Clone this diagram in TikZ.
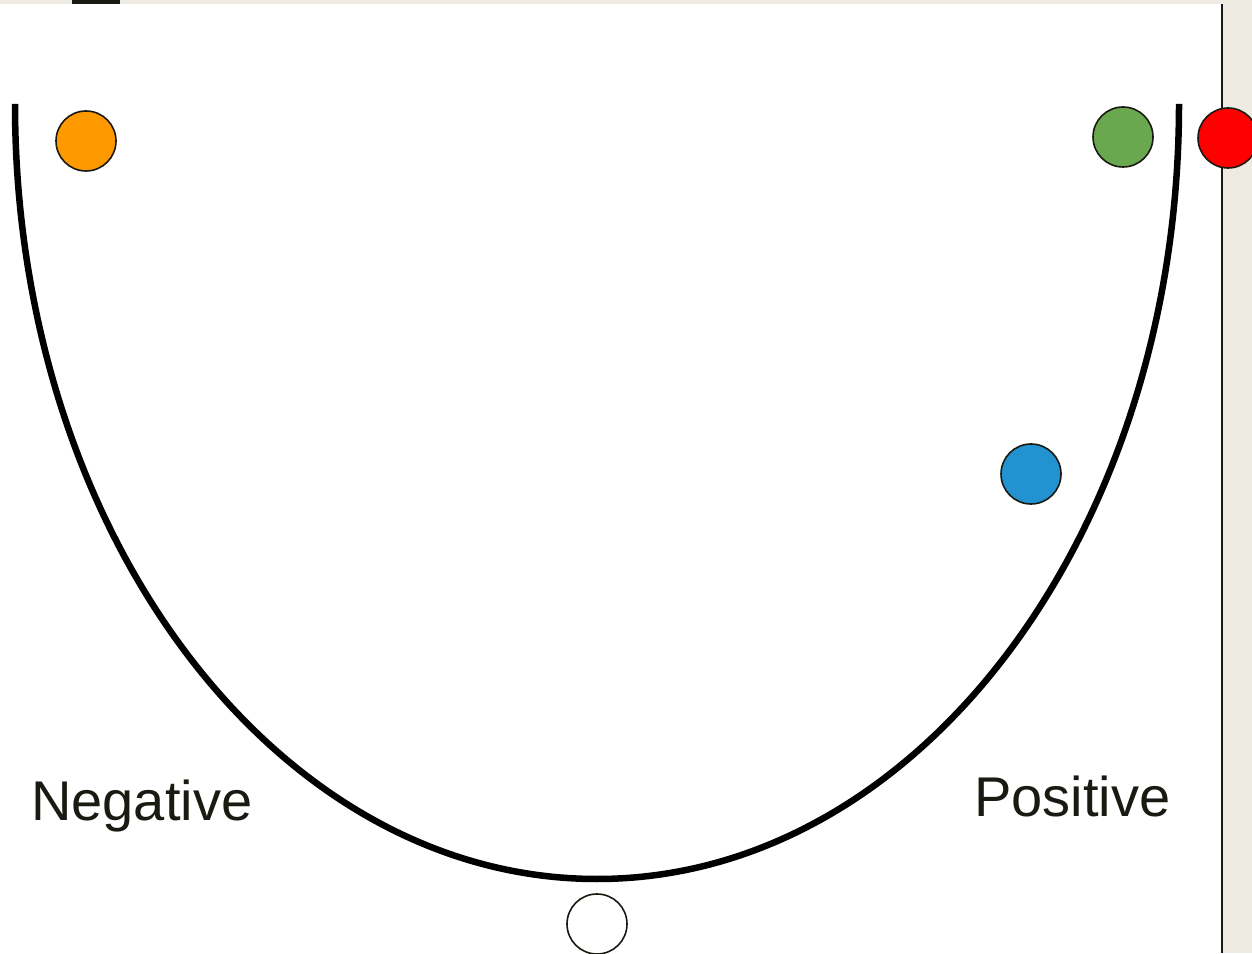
\documentclass[tikz,border=0pt]{standalone}
\usepackage{fontspec}
\setmainfont{Liberation Sans}
\definecolor{beige}{HTML}{EEEBE3}
\definecolor{ink}{HTML}{1A1A12}
\definecolor{orng}{HTML}{FF9900}
\definecolor{grn}{HTML}{6AA84F}
\definecolor{blu}{HTML}{2293D0}
\definecolor{rd}{HTML}{FF0000}
\begin{document}
\begin{tikzpicture}[x=1pt,y=1pt,
  ball/.style={circle, draw=ink, line width=1.6pt, minimum size=60pt, inner sep=0pt},
  lab/.style={text=ink, font=\fontsize{56}{62}\selectfont, inner sep=0pt, anchor=base west}]
\useasboundingbox (0,0) rectangle (1252,953);
\fill[white] (0,0) rectangle (1252,953);
% top band and right margin
\fill[beige] (0,949) rectangle (1252,953);
\fill[ink] (72,949) rectangle (120,953);
\fill[beige] (1223,0) rectangle (1252,953);
\draw[ink, line width=2.2pt] (1222,0) -- (1222,949);
% U curve
\draw[black, line width=6.5pt] (15,849) arc[start angle=180, end angle=360, x radius=582, y radius=775];
% balls
\node[ball, fill=orng] (orange) at (86,812) {};
\node[ball, fill=grn] (green) at (1123,816) {};
\node[ball, fill=rd] (red) at (1228,815) {};
\node[ball, fill=blu] (blue) at (1031,479) {};
\node[ball, fill=white] (white) at (597,29) {};
% labels
\node[lab] (neg) at (31,132) {Negative};
\node[lab] (pos) at (974,136) {Positive};
\end{tikzpicture}
\end{document}
